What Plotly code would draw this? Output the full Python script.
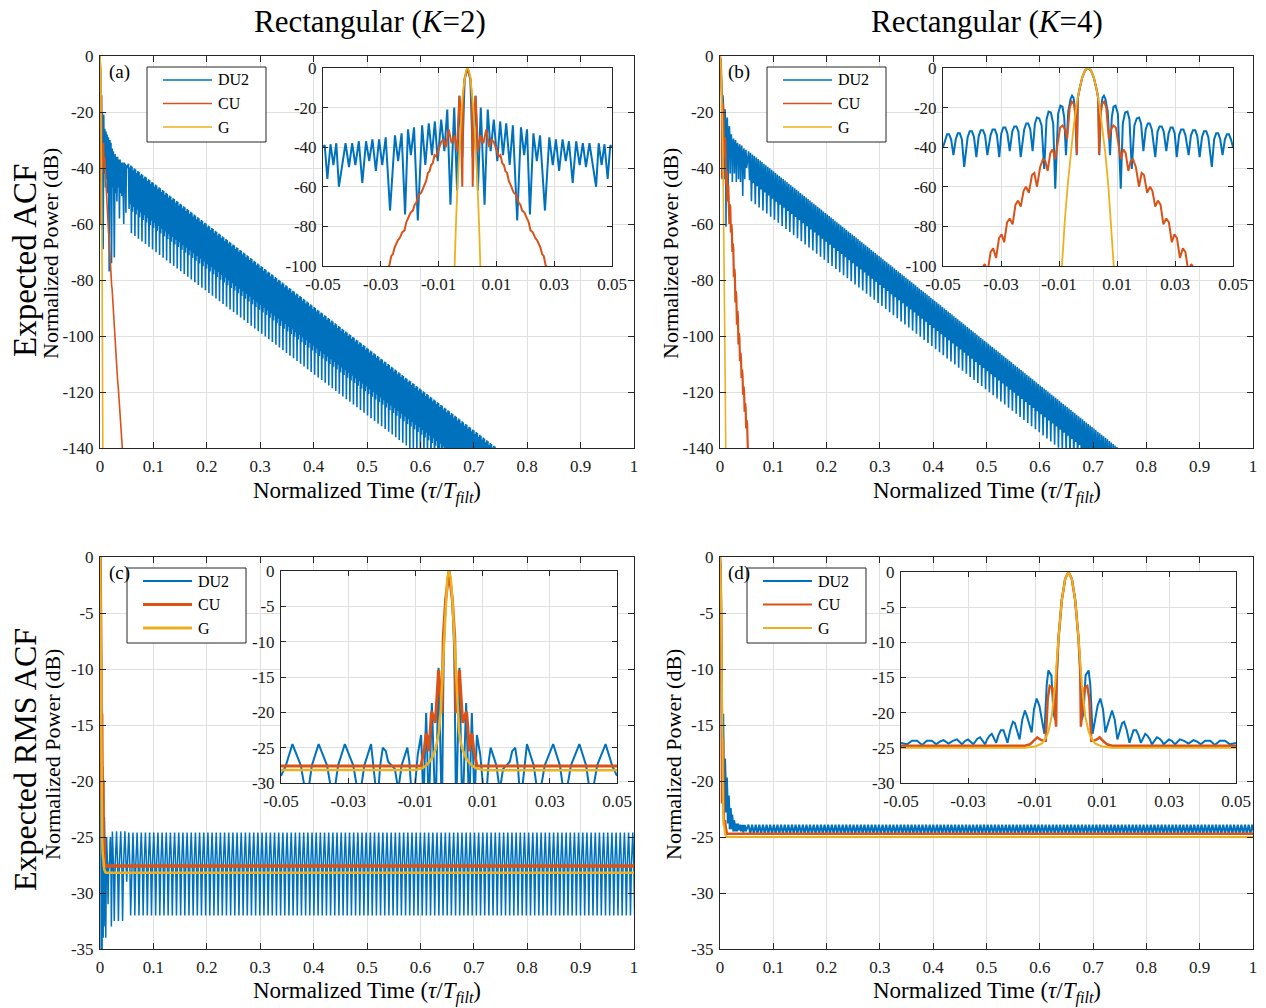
import numpy as np
import plotly.graph_objects as go

W, H = 1266, 1008
FONT = "Liberation Serif, Times New Roman, serif"
BLUE, ORANGE, YELLOW = "#0072BD", "#D95319", "#EDB120"
AXC = "#262626"
GRID = "#e0e0e0"

# ---------------------------------------------------------------------------
# Expected ACF, rectangular K=2  (right half, tau >= 0; normalized time, dB)
# ---------------------------------------------------------------------------
a_du2_t = [0, .0010, .0018, .0028, .0036, .0046, .0059, .0070, .0080, .0091,
           .0103, .0113, .0123, .0134, .0146, .0157, .0172, .0185, .0196, .0206,
           .0216, .0228, .0240, .0251, .0268, .0283, .0295, .0306, .0317, .0329,
           .0340, .0351, .0364, .0376, .0388, .0399, .0410, .0422, .0445, .0454,
           .0464, .0474, .0485, .0494, .0500]
a_du2_db = [0, -6, -45, -14, -62, -20, -69, -21, -42, -26,
            -47, -27, -44, -28, -49, -29, -77, -30, -44, -31,
            -74, -33, -47, -34, -72, -35, -49, -36, -52, -36,
            -47, -37, -58, -37, -49, -38, -50, -38, -60, -38,
            -49, -38.5, -56, -39, -40]
a_cu_t = [0, .0010, .0015, .0018, .0023, .0028, .0032, .0036, .0045, .0055,
          .0065, .0075, .0083, .0091, .0100, .0108, .0114, .0120, .0126, .0131,
          .0137, .0143, .0152, .0160, .0168, .0177, .0183, .0189, .0197, .0206,
          .0212, .0218, .0226, .0235, .0241, .0247, .0253, .0258, .0264, .0270,
          .0285, .0300, .0315, .0330, .0345, .0360, .0375, .0390, .0405, .0420,
          .0435]
a_cu_db = [0, -5, -15, -60, -25, -14, -26, -42, -34, -38,
           -31, -40, -36, -37.4, -41, -44.7, -44, -48, -49, -52,
           -53, -57, -60, -63, -64, -68, -69, -72, -73, -76,
           -78, -82, -83, -86, -87, -89, -91, -94, -95, -99.5,
           -103, -108, -111, -116, -119, -124, -127, -132, -135, -140,
           -145]
a_g_t = [0, .0005, .0010, .0015, .0020, .0025, .0030, .0035, .0040, .0045, .0050, .0055]
a_g_db = [0, -1.2, -4.9, -11.1, -19.8, -30.9, -44.4, -60.5, -79, -100, -123, -149]
# DU2 far sidelobe band: upper edge and the repeating comb below it
a_env_t = [0.05, 0.76]
a_env_db = [-38, -142.5]
a_cell_t = [0, .0011, .0022, .0033, .0044, .0055]
a_cell_db = [0, -16, -1, -14, 0, -24]
a_cell_period = 0.0066

# ---------------------------------------------------------------------------
# Expected ACF, rectangular K=4
# ---------------------------------------------------------------------------
b_du2_t = [0, .0010, .0020, .0030, .0035, .0039, .0045, .0050, .0055, .0060,
           .0068, .0076, .0082, .0088, .0095, .0103, .0113, .0120, .0128, .0136,
           .0143, .0151, .0160, .0168, .0176, .0183, .0191, .0199, .0206, .0213,
           .0220, .0232, .0240, .0247, .0254, .0261, .0270, .0278, .0285, .0292,
           .0299, .0306, .0314, .0321, .0329, .0336, .0347, .0355, .0362, .0370,
           .0377, .0385, .0393, .0400, .0408, .0415, .0427, .0435, .0442, .0449,
           .0456, .0464, .0472, .0479, .0486, .0493, .0500]
b_du2_db = [0, -1.2, -4.8, -11, -15, -44, -20, -15, -14, -15.5,
            -22, -44, -25, -19.5, -19, -23, -61, -28, -22.5, -22,
            -26, -51, -29, -25.5, -25, -28, -42, -31, -28, -28,
            -31, -45, -32, -29.5, -29.5, -32, -42, -33, -30, -30,
            -33, -45, -34, -31, -31, -34, -44, -34, -31.5, -31.5,
            -34.5, -45, -35, -32, -32, -35, -50, -36, -33, -33,
            -36, -44, -36, -33.5, -33.5, -36, -40]
b_cu_t = [0, .0010, .0020, .0030, .0035, .0038, .0043, .0049, .0056, .0063,
          .0072, .0079, .0088, .0096, .0105, .0113, .0122, .0130, .0139, .0147,
          .0155, .0165, .0176, .0185, .0193, .0204, .0214, .0222, .0232, .0241,
          .0250, .0260, .0270, .0279, .0289, .0298, .0307, .0317, .0327, .0336,
          .0346, .0356, .0365, .0375, .0385, .0394, .0404, .0414, .0423, .0433,
          .0443, .0452, .0462, .0472, .0481, .0491, .0501, .0510, .0520, .0530]
b_cu_db = [0, -1.2, -4.8, -11, -15, -43.5, -24, -18, -17, -20,
           -36, -31, -29, -30, -38, -46, -41, -43, -52, -47,
           -46, -50, -60, -53, -54, -63, -60, -62, -70, -67,
           -69, -79, -76, -78, -88, -84, -86, -96, -91, -93,
           -103, -99, -101, -109, -106, -108, -115, -112, -114, -121,
           -118, -120, -127, -124, -126, -133, -130, -132, -140, -146]
b_g_t = [0, .0010, .0020, .0030, .0040, .0050, .0060, .0070, .0080, .0090, .0100, .0110]
b_g_db = [0, -1.2, -4.8, -10.9, -19.3, -30.2, -43.5, -59.2, -77.3, -97.8, -121, -146]
b_env_t = [0.05, 0.76]
b_env_db = [-33.5, -142]
b_cell_t = [0, .0018, .0036, .0054]
b_cell_db = [0, -10, 0, -17]
b_cell_period = 0.0072

# ---------------------------------------------------------------------------
# Expected RMS ACF, rectangular K=2
# ---------------------------------------------------------------------------
c_du2_t = [0, .0010, .0016, .0021, .0031, .0036, .0040, .0051, .0056, .0060,
           .0068, .0072, .0076, .0083, .0088, .0093, .0108, .0118, .0124, .0130,
           .0141, .0151, .0161, .0181, .0188, .0197, .0205, .0213, .0232, .0252,
           .0267, .0285, .0310, .0330, .0345, .0363, .0388, .0408, .0423, .0441,
           .0466, .0486, .0500]
c_du2_db = [0, -4, -12, -35, -13.7, -26, -35, -18.7, -26, -34,
            -20.1, -27, -33, -23.2, -24.5, -26, -34, -27, -25, -26,
            -27.5, -31, -28, -27, -25.5, -25, -27.6, -33, -24.5, -27.5,
            -32.5, -27.5, -24.5, -27.5, -32.5, -27.5, -24.5, -27.5, -32.5, -27.5,
            -24.5, -27.6, -29]
c_cu_t = [0, .0010, .0017, .0021, .0026, .0031, .0036, .0041, .0047, .0052,
          .0056, .0060, .0065, .0068, .0073, .0078, .0083, .0100, 1.0]
c_cu_db = [0, -4.1, -9.3, -20.1, -17, -14, -18, -21.5, -20.5, -19.9,
           -22, -25.5, -23.5, -23, -25, -26.2, -27.6, -27.6, -27.6]
c_g_t = [0, .0005, .0010, .0015, .0020, .0025, .0030, .0035, .0040, .0050,
         .0060, .0070, .0080, .0100, .0120, 1.0]
c_g_db = [0, -1, -4, -9, -15, -20, -22.8, -24.2, -25.2, -26.4,
          -27.1, -27.6, -27.9, -28.15, -28.2, -28.2]
c_env_t = [0.05, 1.0]
c_env_db = [0, 0]
c_cell_t = [0, .0020, .0035, .0053]
c_cell_db = [-24.6, -27.5, -32, -27.5]
c_cell_period = 0.0078

# ---------------------------------------------------------------------------
# Expected RMS ACF, rectangular K=4
# ---------------------------------------------------------------------------
d_du2_t = [0, .0010, .0020, .0030, .0035, .0040, .0045, .0051, .0060, .0065,
           .0072, .0087, .0095, .0103, .0110, .0124, .0130, .0138, .0146, .0160,
           .0166, .0174, .0182, .0194, .0202, .0209, .0216, .0229, .0236, .0243,
           .0249, .0264, .0272, .0278, .0284, .0300, .0308, .0318, .0333, .0345,
           .0358, .0373, .0383, .0395, .0408, .0423, .0437, .0452, .0467, .0482,
           .0500]
d_du2_db = [0, -1, -4, -9.5, -14, -21, -20, -14.7, -14, -16,
            -23, -19, -18, -19.5, -22.8, -20.5, -19.7, -21, -23.8, -21.5,
            -21.3, -22.5, -24.3, -22.5, -22.5, -23.2, -24.3, -23, -23.3, -23.8,
            -24.5, -23.5, -23.7, -24, -24.5, -23.8, -24, -24.5, -23.8, -24,
            -24.4, -23.9, -24.1, -24.5, -24, -24, -24.6, -24, -24, -24.5,
            -24.3]
d_cu_t = [0, .0010, .0020, .0030, .0035, .0037, .0042, .0048, .0056, .0062,
          .0068, .0075, .0085, .0093, .0103, .0115, .0130, 1.0]
d_cu_db = [0, -1, -4, -9.5, -14, -22, -19, -16.5, -16.2, -18,
           -24, -24, -23.8, -23.5, -24, -24.5, -24.7, -24.7]
d_g_t = [0, .0010, .0020, .0030, .0040, .0050, .0060, .0070, .0080, .0100, .0130, 1.0]
d_g_db = [0, -1, -4, -9.5, -16, -20.5, -22.7, -23.8, -24.4, -24.8, -25, -25]
d_env_t = [0.05, 1.0]
d_env_db = [0, 0]
d_cell_t = [0, .0034]
d_cell_db = [-23.9, -24.7]
d_cell_period = 0.0068

# axis ticks
main_x_ticks = [0, .1, .2, .3, .4, .5, .6, .7, .8, .9, 1]
main_x_text = ["0", "0.1", "0.2", "0.3", "0.4", "0.5", "0.6", "0.7", "0.8", "0.9", "1"]
inset_x_ticks = [-.05, -.03, -.01, .01, .03, .05]
inset_x_text = ["-0.05", "-0.03", "-0.01", "0.01", "0.03", "0.05"]
acf_y_ticks = [0, -20, -40, -60, -80, -100, -120, -140]
acf_inset_y_ticks = [0, -20, -40, -60, -80, -100]
rms_y_ticks = [0, -5, -10, -15, -20, -25, -30, -35]
rms_inset_y_ticks = [0, -5, -10, -15, -20, -25, -30]
series_names = ["DU2", "CU", "G"]


def mirror(t, v):
    t = np.asarray(t, float)
    v = np.asarray(v, float)
    return np.concatenate([-t[:0:-1], t]), np.concatenate([v[:0:-1], v])


def comb(cell_t, cell_db, period, t_start, t_end, env_t, env_db):
    """Repeat one measured sidelobe cell along the envelope."""
    ts, ds = [], []
    base = t_start
    while base <= t_end:
        for ct, cd in zip(cell_t, cell_db):
            t = base + ct
            ts.append(t)
            ds.append(float(np.interp(t, env_t, env_db)) + cd)
        base += period
    return ts, ds


def full_du2(t, db, cell_t, cell_db, period, env_t, env_db, t_end):
    tt, dd = comb(cell_t, cell_db, period, t[-1] + period / 2, t_end, env_t, env_db)
    return list(t) + tt, list(db) + dd


fig = go.Figure()

panels = [
    # (axis index, x px range, y px range)
    (1, (100, 634), (56, 448)),
    (2, (720, 1253), (56, 448)),
    (3, (100, 634), (557, 949)),
    (4, (720, 1253), (557, 949)),
    (5, (323, 612), (68, 266)),
    (6, (943, 1233), (68, 266)),
    (7, (281, 617), (571, 783)),
    (8, (901, 1236), (572, 783)),
]


def ax_name(i, kind):
    return kind if i == 1 else f"{kind}{i}"


def add(i, x, y, color, width):
    fig.add_trace(go.Scatter(
        x=x, y=y, mode="lines", line=dict(color=color, width=width),
        xaxis=ax_name(i, "x"), yaxis=ax_name(i, "y"), showlegend=False,
        hoverinfo="skip"))


# main panels
ax_, ay_ = full_du2(a_du2_t, a_du2_db, a_cell_t, a_cell_db, a_cell_period, a_env_t, a_env_db, 0.76)
add(1, ax_, ay_, BLUE, 1.6)
add(1, a_cu_t, a_cu_db, ORANGE, 1.6)
add(1, a_g_t, a_g_db, YELLOW, 1.6)

bx_, by_ = full_du2(b_du2_t, b_du2_db, b_cell_t, b_cell_db, b_cell_period, b_env_t, b_env_db, 0.76)
add(2, bx_, by_, BLUE, 1.6)
add(2, b_cu_t, b_cu_db, ORANGE, 2.2)
add(2, b_g_t, b_g_db, YELLOW, 1.6)

cx_, cy_ = full_du2(c_du2_t, c_du2_db, c_cell_t, c_cell_db, c_cell_period, c_env_t, c_env_db, 1.0)
add(3, cx_, cy_, BLUE, 1.5)
add(3, c_cu_t, c_cu_db, ORANGE, 3.5)
add(3, c_g_t, c_g_db, YELLOW, 2.5)

dx_, dy_ = full_du2(d_du2_t, d_du2_db, d_cell_t, d_cell_db, d_cell_period, d_env_t, d_env_db, 1.0)
add(4, dx_, dy_, BLUE, 2)
add(4, d_cu_t, d_cu_db, ORANGE, 2.5)
add(4, d_g_t, d_g_db, YELLOW, 2)

# insets around tau = 0
add(5, *mirror(a_du2_t, a_du2_db), BLUE, 2)
add(5, *mirror(a_cu_t, a_cu_db), ORANGE, 2)
add(5, *mirror(a_g_t, a_g_db), YELLOW, 1.8)

add(6, *mirror(b_du2_t, b_du2_db), BLUE, 2)
add(6, *mirror(b_cu_t, b_cu_db), ORANGE, 2)
add(6, *mirror(b_g_t, b_g_db), YELLOW, 1.8)

add(7, *mirror(c_du2_t, c_du2_db), BLUE, 2)
add(7, *mirror(c_cu_t, c_cu_db), ORANGE, 3)
add(7, *mirror(c_g_t, c_g_db), YELLOW, 2.5)

add(8, *mirror(d_du2_t, d_du2_db), BLUE, 2)
add(8, *mirror(d_cu_t, d_cu_db), ORANGE, 2.5)
add(8, *mirror(d_g_t, d_g_db), YELLOW, 2)


def yfmt(v):
    return "0" if v == 0 else f"-{abs(v):g}"


axis_cfg = {
    1: ("main", acf_y_ticks, (-140, 0)),
    2: ("main", acf_y_ticks, (-140, 0)),
    3: ("main", rms_y_ticks, (-35, 0)),
    4: ("main", rms_y_ticks, (-35, 0)),
    5: ("inset", acf_inset_y_ticks, (-100, 0)),
    6: ("inset", acf_inset_y_ticks, (-100, 0)),
    7: ("inset", rms_inset_y_ticks, (-30, 0)),
    8: ("inset", rms_inset_y_ticks, (-30, 0)),
}

tick_font = dict(family=FONT, size=17, color="#1a1a1a")
common = dict(showline=True, linecolor=AXC, linewidth=1, mirror="ticks",
              ticks="inside", tickcolor=AXC, tickwidth=1,
              showgrid=True, gridcolor=GRID, gridwidth=1, zeroline=False,
              tickfont=tick_font, automargin=False, fixedrange=True)

layout_axes = {}
for i, xp, yp in panels:
    kind, yt, yr = axis_cfg[i]
    xdom = [xp[0] / W, xp[1] / W]
    ydom = [1 - yp[1] / H, 1 - yp[0] / H]
    if kind == "main":
        xt, xtt, xr, tl = main_x_ticks, main_x_text, (0, 1), 6
    else:
        xt, xtt, xr, tl = inset_x_ticks, inset_x_text, (-0.05, 0.05), 5
    layout_axes[ax_name(i, "xaxis")] = dict(
        common, domain=xdom, range=list(xr), tickmode="array", tickvals=xt,
        ticktext=xtt, ticklen=tl, anchor=ax_name(i, "y"), ticklabelstandoff=3)
    layout_axes[ax_name(i, "yaxis")] = dict(
        common, domain=ydom, range=list(yr), tickmode="array", tickvals=yt,
        ticktext=[yfmt(v) for v in yt], ticklen=tl, anchor=ax_name(i, "x"),
        ticklabelstandoff=2)

annotations = []
shapes = []


def text(x, y, s, size, angle=0, xanchor="center", yanchor="middle"):
    annotations.append(dict(
        x=x / W, y=1 - y / H, xref="paper", yref="paper", text=s,
        showarrow=False, textangle=angle, xanchor=xanchor, yanchor=yanchor,
        font=dict(family=FONT, size=size, color="#000000")))


text(370, 21, "Rectangular (<i>K</i>=2)", 31)
text(987, 21, "Rectangular (<i>K</i>=4)", 31)
text(25, 261, "Expected ACF", 33, -90)
text(25, 760, "Expected RMS ACF", 32, -90)
for (x, y) in [(50, 254), (670, 254), (52, 755), (673, 755)]:
    text(x, y, "Normalized Power (dB)", 22, -90)
xlabel = "Normalized Time (<i>τ</i>/<i>T</i><sub><i>filt</i></sub>)"
for (x, y) in [(367, 492), (987, 492), (367, 992), (987, 992)]:
    text(x, y, xlabel, 23)
for (x, y, s) in [(107, 72, "(a)"), (726, 72, "(b)"), (107, 573, "(c)"), (726, 573, "(d)")]:
    text(x, y, s, 19, xanchor="left")

# legend boxes
legend_specs = [
    (147, 67, [1.5, 1.5, 1.5]),
    (767, 67, [1.5, 1.5, 1.5]),
    (127, 568, [2, 3, 3]),
    (747, 568, [2, 2, 2]),
]
for (lx, ly, widths) in legend_specs:
    shapes.append(dict(type="rect", xref="paper", yref="paper",
                       x0=lx / W, x1=(lx + 119) / W, y0=1 - (ly + 75) / H, y1=1 - ly / H,
                       line=dict(color=AXC, width=1), fillcolor="white", layer="above"))
    for k, (name, col) in enumerate(zip(series_names, [BLUE, ORANGE, YELLOW])):
        yy = ly + 13 + k * 23.5
        shapes.append(dict(type="line", xref="paper", yref="paper",
                           x0=(lx + 16) / W, x1=(lx + 65) / W, y0=1 - yy / H, y1=1 - yy / H,
                           line=dict(color=col, width=widths[k]), layer="above"))
        text(lx + 69, yy, name, 16, xanchor="left")

fig.update_layout(
    width=W, height=H, margin=dict(l=0, r=0, t=0, b=0, autoexpand=False),
    font=dict(family=FONT, size=17, color="#1a1a1a"),
    paper_bgcolor="white", plot_bgcolor="white", showlegend=False,
    annotations=annotations, shapes=shapes, **layout_axes)

fig.write_html("out.html")
